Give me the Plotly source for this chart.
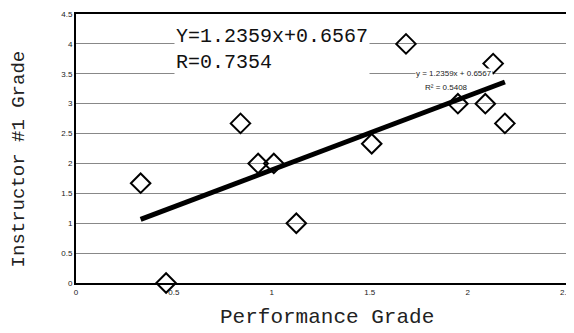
import plotly.graph_objects as go

# performance grade vs instructor #1 grade
perf = [0.33, 0.46, 0.84, 0.93, 1.01, 1.125, 1.51, 1.685, 1.95, 2.09, 2.13, 2.19]
instr = [1.67, 0.0, 2.67, 2.0, 2.0, 1.0, 2.33, 4.0, 3.0, 3.0, 3.67, 2.67]

# fitted line end points
trend_x = [0.33, 2.19]
trend_y = [1.064, 3.363]

x_ticks = [0, 0.5, 1, 1.5, 2, 2.5]
y_ticks = [0, 0.5, 1, 1.5, 2, 2.5, 3, 3.5, 4, 4.5]

mono = "Liberation Mono, Courier New, monospace"

fig = go.Figure()

fig.add_trace(go.Scatter(x=trend_x, y=trend_y, mode="lines",
                         line=dict(color="black", width=5), showlegend=False))
fig.add_trace(go.Scatter(x=perf, y=instr, mode="markers",
                         marker=dict(symbol="diamond-open", size=15, color="black",
                                     line=dict(color="black", width=2)),
                         showlegend=False, cliponaxis=False))

fig.update_xaxes(range=[0, 2.502], tickvals=x_ticks, ticktext=["0", "0.5", "1", "1.5", "2", "2.5"],
                 showgrid=False, zeroline=False, showline=True, linecolor="black", linewidth=2,
                 mirror=True, ticks="", ticklabeloverflow="allow",
                 tickfont=dict(size=8, color="#222", family="Arial"))
fig.update_yaxes(range=[0, 4.5], tickvals=y_ticks,
                 ticktext=["0", "0.5", "1", "1.5", "2", "2.5", "3", "3.5", "4", "4.5"],
                 showgrid=True, gridcolor="#888", gridwidth=1, zeroline=False,
                 showline=True, linecolor="black", linewidth=2, mirror=True, ticks="",
                 ticklabeloverflow="allow",
                 tickfont=dict(size=8, color="#222", family="Arial"))

# axis titles as annotations to place them like the scan
fig.add_annotation(x=0.513, y=-0.128, xref="paper", yref="paper", xanchor="center",
                   yanchor="middle", text="Performance Grade", showarrow=False,
                   font=dict(family=mono, size=21, color="#222"))
fig.add_annotation(x=-0.116, y=0.46, xref="paper", yref="paper", xanchor="center",
                   yanchor="middle", text="Instructor #1 Grade", textangle=-90,
                   showarrow=False, font=dict(family=mono, size=19, color="#222"))

fig.add_annotation(x=0.5, y=3.91, xref="x", yref="y", xanchor="left", yanchor="middle",
                   text="Y=1.2359x+0.6567<br>R=0.7354", align="left", showarrow=False,
                   bgcolor="white", font=dict(family=mono, size=20, color="#111"))
# small excel-style trendline label
fig.add_annotation(x=1.93, y=3.5, xref="x", yref="y", xanchor="center", yanchor="middle",
                   text="y = 1.2359x + 0.6567", showarrow=False,
                   bgcolor="white", borderpad=0,
                   font=dict(family="Arial", size=8, color="#222"))
fig.add_annotation(x=1.89, y=3.27, xref="x", yref="y", xanchor="center", yanchor="middle",
                   text="R² = 0.5408", showarrow=False,
                   font=dict(family="Arial", size=8, color="#222"))

# page body adds 8px around the figure, so size/margins are reduced accordingly
fig.update_layout(width=566, height=325, plot_bgcolor="white", paper_bgcolor="white",
                  margin=dict(l=68, r=7, t=2, b=50))

fig.write_html("out.html")
